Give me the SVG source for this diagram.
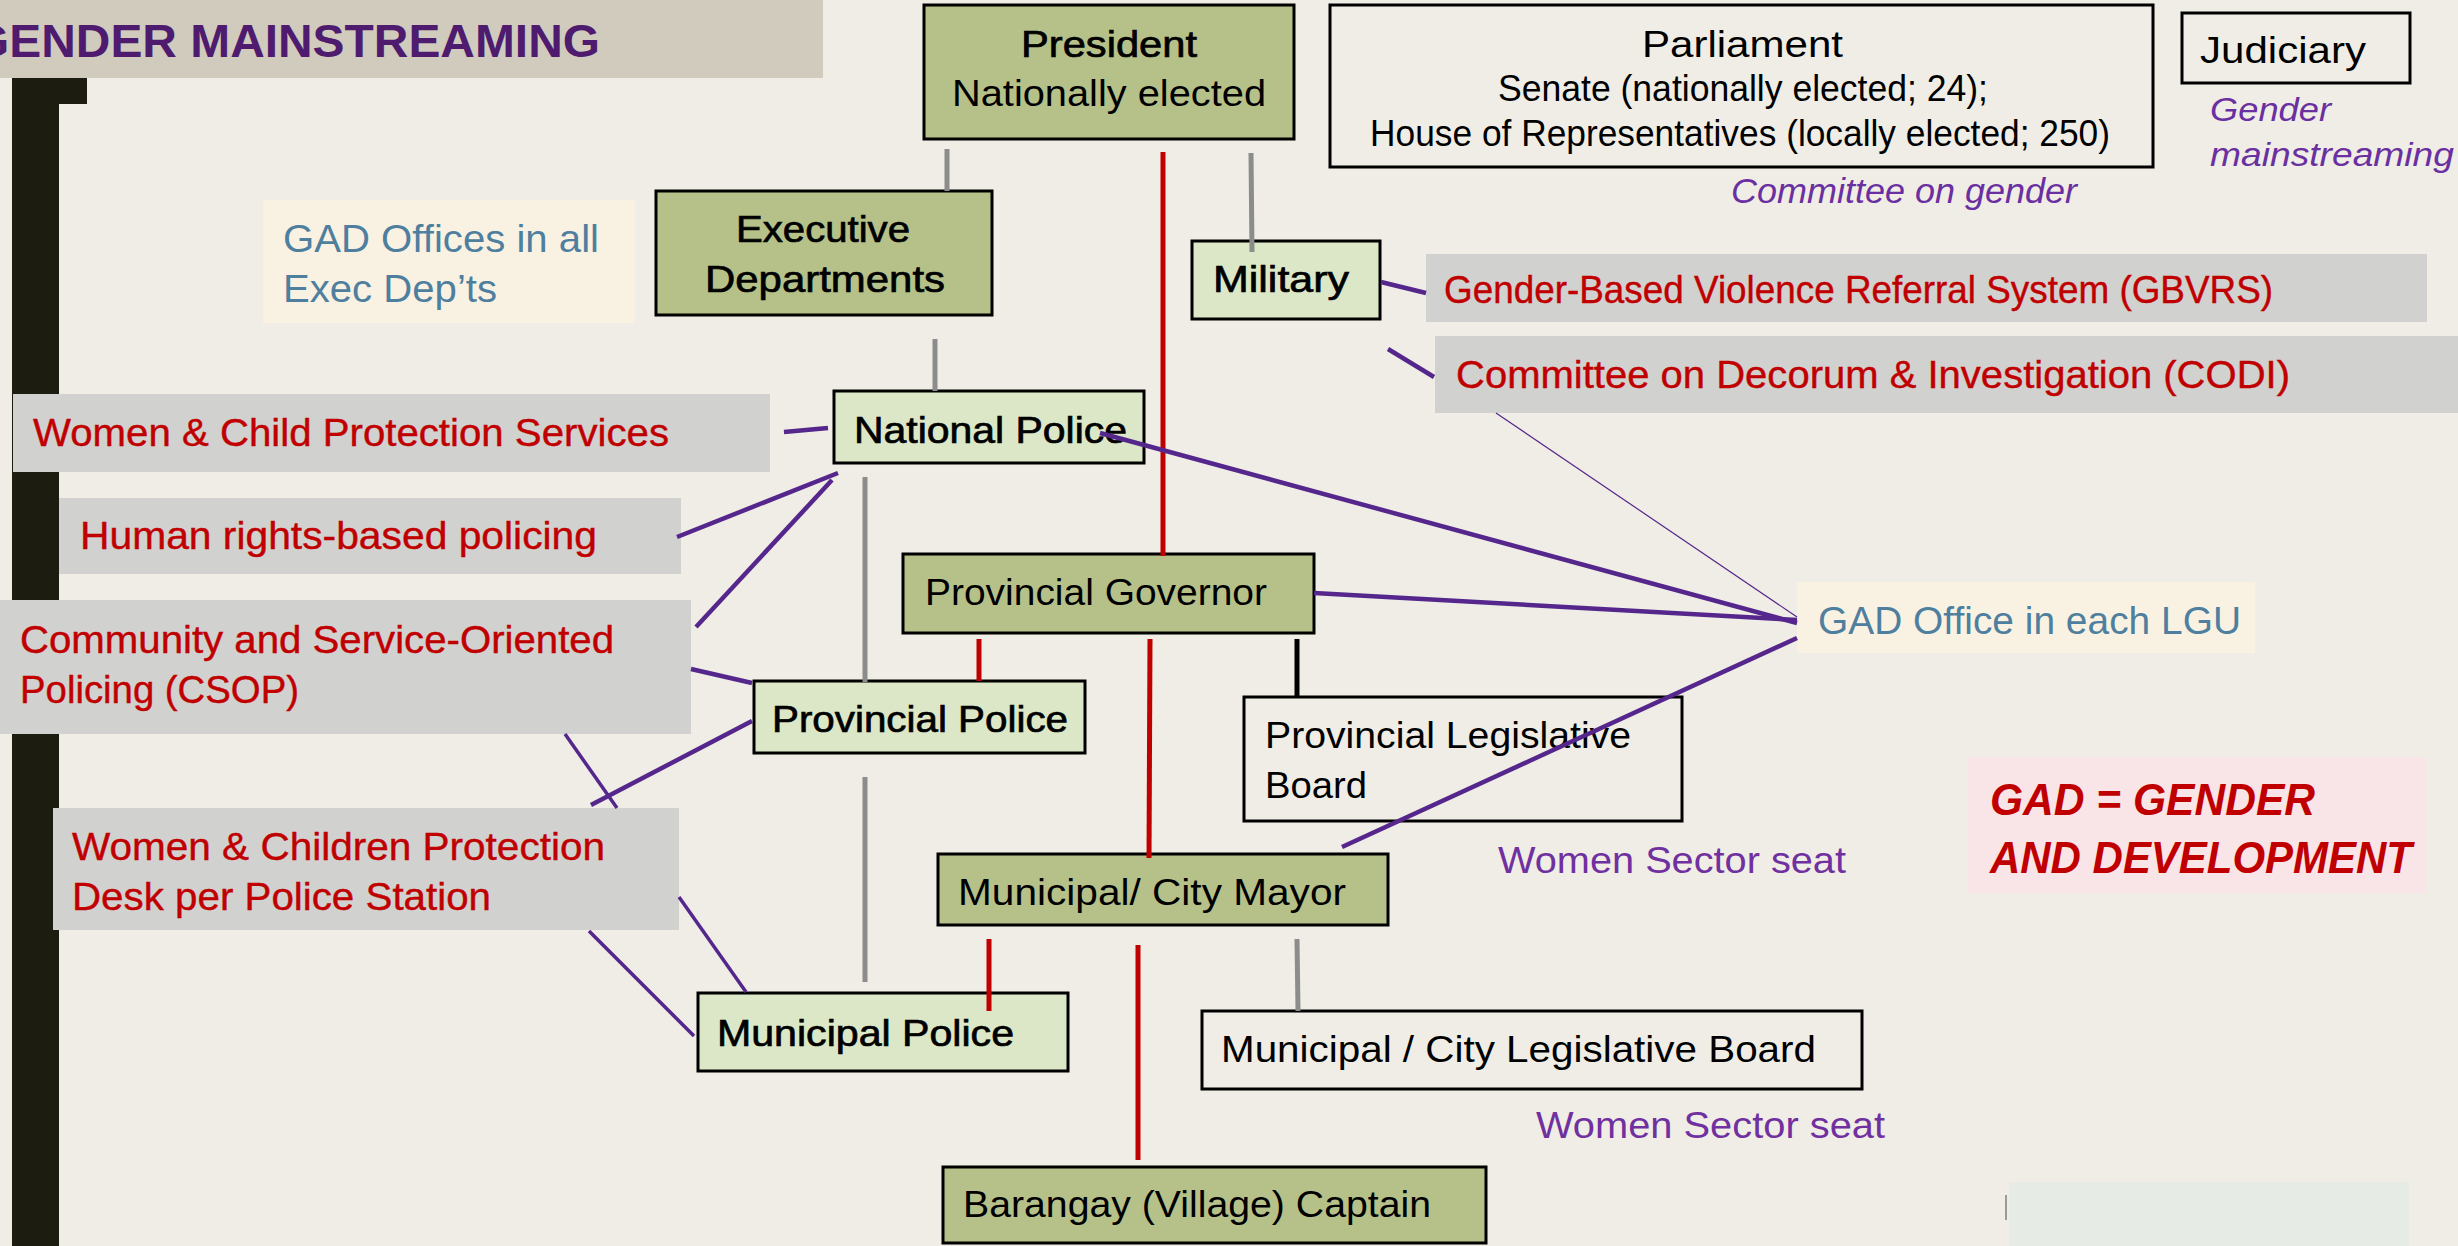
<svg xmlns="http://www.w3.org/2000/svg" width="2458" height="1246" viewBox="0 0 2458 1246">
<style>
text{font-family:"Liberation Sans",Arial,sans-serif;}
.blk{fill:#000;font-size:37px;}
.med{stroke:#000;stroke-width:0.7px;}
.red{fill:#c00000;font-size:38px;stroke:#c00000;stroke-width:0.4px;}
.blue{fill:#4f7f9f;font-size:39px;}
.pur{fill:#7030a0;font-size:36px;}
.ital{fill:#6a2fa0;font-style:italic;}
.olive{fill:#b6c189;stroke:#000;stroke-width:3;}
.lgreen{fill:#dbe7c6;stroke:#000;stroke-width:3;}
.plain{fill:none;stroke:#000;stroke-width:3;}
.grayb{fill:#d1d1d0;}
.cream{fill:#f9f2e2;}
.gl{stroke:#8c8c8c;stroke-width:5;fill:none;}
.rl{stroke:#c00000;stroke-width:5;fill:none;}
.bl{stroke:#000;stroke-width:5;fill:none;}
.pl{stroke:#55268c;stroke-width:4.5;fill:none;}
.plt{stroke:#55268c;stroke-width:3.5;fill:none;}
.plh{stroke:#55268c;stroke-width:1.2;fill:none;}
</style>
<rect x="0" y="0" width="2458" height="1246" fill="#efede5"/>
<g id="title">
<rect x="0" y="0" width="823" height="78" fill="#d1cbbe"/>
<text x="-28" y="57" font-size="46" font-weight="bold" fill="#4e1b6f" textLength="628" lengthAdjust="spacingAndGlyphs">GENDER MAINSTREAMING</text>
</g>
<g id="sidebar">
<rect x="12" y="78" width="75" height="26" fill="#1c1c10"/>
<rect x="12" y="78" width="47" height="1168" fill="#1c1c10"/>
</g>
<g id="president">
<rect class="olive" x="924" y="5" width="370" height="134"/>
<text class="blk med" x="1021" y="57" textLength="176" lengthAdjust="spacingAndGlyphs">President</text>
<text class="blk" x="952" y="106" textLength="314" lengthAdjust="spacingAndGlyphs">Nationally elected</text>
</g>
<g id="parliament">
<rect class="plain" x="1330" y="5" width="823" height="162"/>
<text class="blk" x="1642" y="57" textLength="201" lengthAdjust="spacingAndGlyphs">Parliament</text>
<text class="blk" x="1498" y="101" font-size="32" textLength="490" lengthAdjust="spacingAndGlyphs">Senate (nationally elected; 24);</text>
<text class="blk" x="1370" y="146" font-size="32" textLength="740" lengthAdjust="spacingAndGlyphs">House of Representatives (locally elected; 250)</text>
</g>
<g id="committee-gender">
<text class="ital" x="1731" y="203" font-size="35" textLength="346" lengthAdjust="spacingAndGlyphs">Committee on gender</text>
</g>
<g id="judiciary">
<rect class="plain" x="2182" y="13" width="228" height="70"/>
<text class="blk" x="2200" y="63" textLength="166" lengthAdjust="spacingAndGlyphs">Judiciary</text>
</g>
<g id="judiciary-gm">
<text class="ital" x="2210" y="121" font-size="33" textLength="121" lengthAdjust="spacingAndGlyphs">Gender</text>
<text class="ital" x="2210" y="166" font-size="33" textLength="244" lengthAdjust="spacingAndGlyphs">mainstreaming</text>
</g>
<g id="gad-offices">
<rect class="cream" x="263" y="200" width="372" height="123"/>
<text class="blue" x="283" y="252" textLength="316" lengthAdjust="spacingAndGlyphs">GAD Offices in all</text>
<text class="blue" x="283" y="302" textLength="214" lengthAdjust="spacingAndGlyphs">Exec Dep’ts</text>
</g>
<g id="exec-depts">
<rect class="olive" x="656" y="191" width="336" height="124"/>
<text class="blk med" x="736" y="242" textLength="174" lengthAdjust="spacingAndGlyphs">Executive</text>
<text class="blk med" x="705" y="292" textLength="240" lengthAdjust="spacingAndGlyphs">Departments</text>
</g>
<g id="military">
<rect class="lgreen" x="1192" y="241" width="188" height="78"/>
<text class="blk med" x="1213" y="292" textLength="136" lengthAdjust="spacingAndGlyphs">Military</text>
</g>
<g id="gbvrs">
<rect class="grayb" x="1426" y="254" width="1001" height="68"/>
<text class="red" x="1444" y="303" textLength="829" lengthAdjust="spacingAndGlyphs">Gender-Based Violence Referral System (GBVRS)</text>
</g>
<g id="codi">
<rect class="grayb" x="1435" y="336" width="1023" height="77"/>
<text class="red" x="1456" y="388" textLength="834" lengthAdjust="spacingAndGlyphs">Committee on Decorum &amp; Investigation (CODI)</text>
</g>
<g id="wcps">
<rect class="grayb" x="13" y="394" width="757" height="78"/>
<text class="red" x="33" y="446" textLength="636" lengthAdjust="spacingAndGlyphs">Women &amp; Child Protection Services</text>
</g>
<g id="national-police">
<rect class="lgreen" x="834" y="391" width="310" height="72"/>
<text class="blk med" x="854" y="443" textLength="273" lengthAdjust="spacingAndGlyphs">National Police</text>
</g>
<g id="human-rights">
<rect class="grayb" x="59" y="498" width="622" height="76"/>
<text class="red" x="80" y="549" textLength="517" lengthAdjust="spacingAndGlyphs">Human rights-based policing</text>
</g>
<g id="csop">
<rect class="grayb" x="0" y="600" width="691" height="134"/>
<text class="red" x="20" y="653" textLength="594" lengthAdjust="spacingAndGlyphs">Community and Service-Oriented</text>
<text class="red" x="20" y="703" textLength="279" lengthAdjust="spacingAndGlyphs">Policing (CSOP)</text>
</g>
<g id="prov-governor">
<rect class="olive" x="903" y="554" width="411" height="79"/>
<text class="blk" x="925" y="605" textLength="342" lengthAdjust="spacingAndGlyphs">Provincial Governor</text>
</g>
<g id="gad-lgu">
<rect class="cream" x="1797" y="582" width="458" height="71"/>
<text class="blue" x="1818" y="634" textLength="423" lengthAdjust="spacingAndGlyphs">GAD Office in each LGU</text>
</g>
<g id="prov-police">
<rect class="lgreen" x="754" y="681" width="331" height="72"/>
<text class="blk med" x="772" y="732" textLength="296" lengthAdjust="spacingAndGlyphs">Provincial Police</text>
</g>
<g id="prov-legislative">
<rect class="plain" x="1244" y="697" width="438" height="124"/>
<text class="blk" x="1265" y="748" textLength="366" lengthAdjust="spacingAndGlyphs">Provincial Legislative</text>
<text class="blk" x="1265" y="798" textLength="102" lengthAdjust="spacingAndGlyphs">Board</text>
</g>
<g id="gad-def">
<rect x="1968" y="757" width="458" height="136" fill="#f9e4e8"/>
<text x="1990" y="815" font-size="44" font-weight="bold" font-style="italic" fill="#c00000" textLength="325" lengthAdjust="spacingAndGlyphs">GAD = GENDER</text>
<text x="1990" y="873" font-size="44" font-weight="bold" font-style="italic" fill="#c00000" textLength="422" lengthAdjust="spacingAndGlyphs">AND DEVELOPMENT</text>
</g>
<g id="wcpd">
<rect class="grayb" x="53" y="808" width="626" height="122"/>
<text class="red" x="72" y="860" textLength="533" lengthAdjust="spacingAndGlyphs">Women &amp; Children Protection</text>
<text class="red" x="72" y="910" textLength="419" lengthAdjust="spacingAndGlyphs">Desk per Police Station</text>
</g>
<g id="mayor">
<rect class="olive" x="938" y="854" width="450" height="71"/>
<text class="blk" x="958" y="905" textLength="388" lengthAdjust="spacingAndGlyphs">Municipal/ City Mayor</text>
</g>
<g id="women-seat-prov">
<text class="pur" x="1498" y="873" textLength="348" lengthAdjust="spacingAndGlyphs">Women Sector seat</text>
</g>
<g id="municipal-police">
<rect class="lgreen" x="698" y="993" width="370" height="78"/>
<text class="blk med" x="717" y="1046" textLength="297" lengthAdjust="spacingAndGlyphs">Municipal Police</text>
</g>
<g id="mun-legislative">
<rect class="plain" x="1202" y="1011" width="660" height="78"/>
<text class="blk" x="1221" y="1062" textLength="595" lengthAdjust="spacingAndGlyphs">Municipal / City Legislative Board</text>
</g>
<g id="women-seat-mun">
<text class="pur" x="1536" y="1138" textLength="349" lengthAdjust="spacingAndGlyphs">Women Sector seat</text>
</g>
<g id="barangay">
<rect class="olive" x="943" y="1167" width="543" height="76"/>
<text class="blk" x="963" y="1217" textLength="468" lengthAdjust="spacingAndGlyphs">Barangay (Village) Captain</text>
</g>
<g id="corner-panel">
<rect x="2009" y="1182" width="400" height="64" fill="#e6ece5"/>
<line x1="2006" y1="1195" x2="2006" y2="1220" stroke="#9a9a9a" stroke-width="2"/>
</g>
<g id="connectors">
<line class="gl" x1="947" y1="149" x2="947" y2="191"/>
<line class="gl" x1="1251" y1="153" x2="1252" y2="252"/>
<line class="gl" x1="935" y1="339" x2="935" y2="391"/>
<line class="gl" x1="865" y1="477" x2="865" y2="682"/>
<line class="gl" x1="865" y1="777" x2="865" y2="982"/>
<line class="gl" x1="1297" y1="939" x2="1298" y2="1011"/>
<line class="rl" x1="1163" y1="152" x2="1163" y2="556"/>
<line class="rl" x1="979" y1="639" x2="979" y2="681"/>
<line class="rl" x1="1150" y1="639" x2="1149" y2="858"/>
<line class="rl" x1="989" y1="939" x2="989" y2="1011"/>
<line class="rl" x1="1138" y1="945" x2="1138" y2="1160"/>
<line class="bl" x1="1297" y1="639" x2="1297" y2="697"/>
<line class="pl" x1="1381" y1="282" x2="1426" y2="293"/>
<line class="pl" x1="1388" y1="349" x2="1434" y2="377"/>
<line class="pl" x1="784" y1="432" x2="828" y2="428"/>
<line class="pl" x1="677" y1="537" x2="838" y2="473"/>
<line class="pl" x1="696" y1="627" x2="832" y2="480"/>
<line class="pl" x1="691" y1="669" x2="752" y2="683"/>
<line class="pl" x1="752" y1="721" x2="591" y2="805"/>
<line class="plt" x1="565" y1="734" x2="617" y2="808"/>
<line class="plt" x1="679" y1="897" x2="746" y2="992"/>
<line class="plt" x1="589" y1="931" x2="694" y2="1036"/>
<line class="pl" x1="1100" y1="433" x2="1797" y2="623"/>
<line class="pl" x1="1314" y1="593" x2="1797" y2="620"/>
<line class="plh" x1="1496" y1="413" x2="1797" y2="617"/>
<line class="pl" x1="1342" y1="847" x2="1797" y2="638"/>
</g>
</svg>
